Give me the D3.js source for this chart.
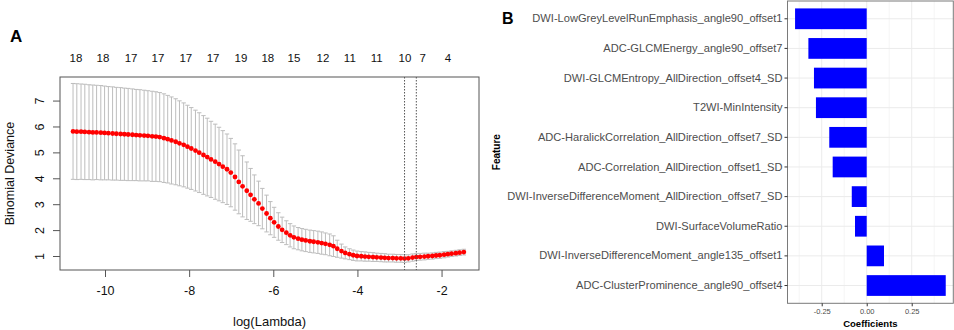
<!DOCTYPE html>
<html>
<head>
<meta charset="utf-8">
<script src="https://cdn.jsdelivr.net/npm/d3@7"></script>
<style>
  body { margin: 0; background: #fff; }
  svg { display: block; font-family: "Liberation Sans", Arial, sans-serif; }
</style>
</head>
<body>
<div id="chart"></div>
<script>
// ---- Panel A: cross-validated binomial deviance vs log(lambda) ----
const logLambda = [
  -10.76, -10.67, -10.57, -10.48, -10.38, -10.29, -10.20, -10.10, -10.01, -9.92,
  -9.82, -9.73, -9.63, -9.54, -9.45, -9.35, -9.26, -9.17, -9.07, -8.98,
  -8.88, -8.79, -8.70, -8.60, -8.51, -8.42, -8.32, -8.23, -8.13, -8.04,
  -7.95, -7.85, -7.76, -7.66, -7.57, -7.48, -7.38, -7.29, -7.20, -7.10,
  -7.01, -6.91, -6.82, -6.73, -6.63, -6.54, -6.45, -6.35, -6.26, -6.16,
  -6.07, -5.98, -5.88, -5.79, -5.69, -5.60, -5.51, -5.41, -5.32, -5.23,
  -5.13, -5.04, -4.94, -4.85, -4.76, -4.66, -4.57, -4.48, -4.38, -4.29,
  -4.19, -4.10, -4.01, -3.91, -3.82, -3.73, -3.63, -3.54, -3.44, -3.35,
  -3.26, -3.16, -3.07, -2.97, -2.88, -2.79, -2.69, -2.60, -2.51, -2.41,
  -2.32, -2.22, -2.13, -2.04, -1.94, -1.85, -1.76, -1.66, -1.57, -1.47
];
const cvMean = [
  5.81, 5.80, 5.80, 5.79, 5.78, 5.77, 5.77, 5.76, 5.75, 5.74,
  5.73, 5.72, 5.71, 5.70, 5.69, 5.68, 5.67, 5.66, 5.65, 5.64,
  5.62, 5.61, 5.59, 5.55, 5.51, 5.46, 5.41, 5.35, 5.29, 5.22,
  5.15, 5.07, 4.99, 4.90, 4.82, 4.73, 4.64, 4.55, 4.45, 4.35,
  4.22, 4.05, 3.86, 3.69, 3.52, 3.36, 3.19, 3.03, 2.83, 2.64,
  2.46, 2.30, 2.14, 2.01, 1.90, 1.80, 1.72, 1.67, 1.63, 1.60,
  1.57, 1.55, 1.53, 1.50, 1.47, 1.43, 1.38, 1.28, 1.19, 1.12,
  1.07, 1.03, 1.00, 0.99, 0.98, 0.97, 0.96, 0.95, 0.94, 0.93,
  0.92, 0.92, 0.91, 0.91, 0.90, 0.91, 0.94, 0.96, 0.97, 0.98,
  0.99, 1.00, 1.02, 1.03, 1.05, 1.07, 1.09, 1.11, 1.13, 1.15
];
const cvSe = [
  1.85, 1.85, 1.84, 1.84, 1.83, 1.83, 1.82, 1.82, 1.81, 1.80,
  1.80, 1.79, 1.79, 1.78, 1.78, 1.77, 1.76, 1.76, 1.75, 1.74,
  1.74, 1.73, 1.72, 1.71, 1.69, 1.68, 1.66, 1.64, 1.62, 1.60,
  1.58, 1.56, 1.54, 1.52, 1.50, 1.47, 1.45, 1.42, 1.39, 1.36,
  1.32, 1.28, 1.23, 1.18, 1.11, 1.02, 0.94, 0.86, 0.78, 0.71,
  0.64, 0.58, 0.53, 0.49, 0.46, 0.45, 0.44, 0.43, 0.43, 0.43,
  0.43, 0.43, 0.43, 0.43, 0.42, 0.42, 0.40, 0.33, 0.27, 0.23,
  0.21, 0.20, 0.19, 0.18, 0.18, 0.17, 0.17, 0.16, 0.16, 0.16,
  0.15, 0.15, 0.15, 0.15, 0.15, 0.14, 0.14, 0.13, 0.13, 0.13,
  0.12, 0.12, 0.12, 0.12, 0.12, 0.11, 0.11, 0.11, 0.11, 0.11
];
// number of non-zero coefficients shown along the top
const dfLabelPos = [-10.69, -10.05, -9.38, -8.74, -8.08, -7.43, -6.77, -6.13, -5.51, -4.82, -4.18, -3.54, -2.87, -2.45, -1.85];
const dfLabels = ["18", "18", "17", "17", "17", "17", "19", "18", "15", "12", "11", "11", "10", "7", "4"];
const lambdaLines = [-2.88, -2.60]; // lambda.min, lambda.1se
const xTicksA = [-10, -8, -6, -4, -2];
const yTicksA = [1, 2, 3, 4, 5, 6, 7];

// ---- Panel B: LASSO coefficients of the selected features ----
const features = [
  "DWI-LowGreyLevelRunEmphasis_angle90_offset1",
  "ADC-GLCMEnergy_angle90_offset7",
  "DWI-GLCMEntropy_AllDirection_offset4_SD",
  "T2WI-MinIntensity",
  "ADC-HaralickCorrelation_AllDirection_offset7_SD",
  "ADC-Correlation_AllDirection_offset1_SD",
  "DWI-InverseDifferenceMoment_AllDirection_offset7_SD",
  "DWI-SurfaceVolumeRatio",
  "DWI-InverseDifferenceMoment_angle135_offset1",
  "ADC-ClusterProminence_angle90_offset4"
];
const coefficients = [-0.398, -0.324, -0.293, -0.282, -0.208, -0.189, -0.083, -0.065, 0.096, 0.439];
const xTicksB = [-0.25, 0, 0.25];
const xMinorB = [-0.375, -0.125, 0.125, 0.375];

const svg = d3.select("#chart").append("svg")
  .attr("width", 954)
  .attr("height", 330);

/**
 * Panel A, drawn in the style of R's plot.cv.glmnet
 */
function drawPanelA() {
  const box = { left: 60, right: 479, top: 77, bottom: 270 };
  const g = svg.append("g");

  const xScale = d3.scaleLinear().domain([-11.07, -1.11]).range([box.left, box.right]);
  const yScale = d3.scaleLinear().domain([0.46, 7.91]).range([box.bottom, box.top]);

  // panel letter
  g.append("text")
    .attr("x", 10).attr("y", 42)
    .attr("font-size", 17).attr("font-weight", "bold")
    .text("A");

  // error bars
  const bars = g.append("g").attr("stroke", "#bdbdbd").attr("stroke-width", 1);
  logLambda.forEach((l, i) => {
    const x = xScale(l);
    const y0 = yScale(cvMean[i] - cvSe[i]);
    const y1 = yScale(cvMean[i] + cvSe[i]);
    bars.append("line").attr("x1", x).attr("x2", x).attr("y1", y0).attr("y2", y1);
    bars.append("line").attr("x1", x - 2.2).attr("x2", x + 2.2).attr("y1", y0).attr("y2", y0);
    bars.append("line").attr("x1", x - 2.2).attr("x2", x + 2.2).attr("y1", y1).attr("y2", y1);
  });

  // mean deviance points
  g.append("g").selectAll("circle")
    .data(logLambda)
    .join("circle")
    .attr("cx", (d) => xScale(d))
    .attr("cy", (d, i) => yScale(cvMean[i]))
    .attr("r", 2.4)
    .attr("fill", "#ff0000");

  // lambda.min and lambda.1se
  g.append("g").selectAll("line")
    .data(lambdaLines)
    .join("line")
    .attr("x1", (d) => xScale(d)).attr("x2", (d) => xScale(d))
    .attr("y1", box.top).attr("y2", box.bottom)
    .attr("stroke", "#555")
    .attr("stroke-width", 1)
    .attr("stroke-dasharray", "1.5,1.5");

  // frame
  g.append("rect")
    .attr("x", box.left).attr("y", box.top)
    .attr("width", box.right - box.left).attr("height", box.bottom - box.top)
    .attr("fill", "none").attr("stroke", "#555").attr("stroke-width", 1);

  // bottom axis
  const xAxis = d3.axisBottom(xScale).tickValues(xTicksA).tickSize(7).tickPadding(9).tickFormat((d) => d);
  const xAxisG = g.append("g").attr("transform", `translate(0,${box.bottom})`).call(xAxis);
  xAxisG.select(".domain").remove();
  xAxisG.selectAll(".tick line").attr("stroke", "#555");
  xAxisG.selectAll(".tick text")
    .attr("font-size", 12.5).attr("fill", "#111")
    .attr("font-family", "Liberation Sans, Arial, sans-serif")
    .text((d) => (d < 0 ? "-" + Math.abs(d) : d));

  // left axis, labels parallel to the axis
  const yAxis = d3.axisLeft(yScale).tickValues(yTicksA).tickSize(7).tickFormat((d) => d);
  const yAxisG = g.append("g").attr("transform", `translate(${box.left},0)`).call(yAxis);
  yAxisG.select(".domain").remove();
  yAxisG.selectAll(".tick line").attr("stroke", "#555");
  yAxisG.selectAll(".tick text")
    .attr("font-size", 12.5).attr("fill", "#111")
    .attr("font-family", "Liberation Sans, Arial, sans-serif")
    .attr("x", 0).attr("dy", null)
    .attr("text-anchor", "middle")
    .attr("transform", "translate(-16,0) rotate(-90)");

  // df labels on top
  g.append("g").selectAll("text")
    .data(dfLabelPos)
    .join("text")
    .attr("x", (d) => xScale(d))
    .attr("y", 61.5)
    .attr("text-anchor", "middle")
    .attr("font-size", 11.5)
    .attr("fill", "#111")
    .text((d, i) => dfLabels[i]);

  // axis titles
  g.append("text")
    .attr("x", (box.left + box.right) / 2).attr("y", 326)
    .attr("text-anchor", "middle").attr("font-size", 13).attr("fill", "#111")
    .text("log(Lambda)");
  g.append("text")
    .attr("transform", `translate(14,${(box.top + box.bottom) / 2}) rotate(-90)`)
    .attr("text-anchor", "middle").attr("font-size", 12.5).attr("fill", "#111")
    .text("Binomial Deviance");
}

/**
 * Panel B, drawn in the style of ggplot2's theme_bw
 */
function drawPanelB() {
  const box = { left: 787.5, right: 953.3, top: 1, bottom: 303.3 };
  const g = svg.append("g");

  const xScale = d3.scaleLinear().domain([-0.440, 0.481]).range([box.left, box.right]);
  const yScale = d3.scaleBand().domain(features).range([box.top, box.bottom])
    .paddingInner(0.3).paddingOuter(0.25);

  g.append("text")
    .attr("x", 502).attr("y", 24)
    .attr("font-size", 16).attr("font-weight", "bold")
    .text("B");

  // grid
  const grid = g.append("g").attr("stroke", "#ebebeb");
  grid.selectAll(".minor").data(xMinorB).join("line")
    .attr("class", "minor")
    .attr("x1", (d) => xScale(d)).attr("x2", (d) => xScale(d))
    .attr("y1", box.top).attr("y2", box.bottom)
    .attr("stroke-width", 0.5);
  grid.selectAll(".majorx").data(xTicksB).join("line")
    .attr("class", "majorx")
    .attr("x1", (d) => xScale(d)).attr("x2", (d) => xScale(d))
    .attr("y1", box.top).attr("y2", box.bottom)
    .attr("stroke-width", 1);
  grid.selectAll(".majory").data(features).join("line")
    .attr("class", "majory")
    .attr("x1", box.left).attr("x2", box.right)
    .attr("y1", (d) => yScale(d) + yScale.bandwidth() / 2)
    .attr("y2", (d) => yScale(d) + yScale.bandwidth() / 2)
    .attr("stroke-width", 1);

  // bars
  g.append("g").selectAll("rect")
    .data(features)
    .join("rect")
    .attr("x", (d, i) => xScale(Math.min(0, coefficients[i])))
    .attr("y", (d) => yScale(d))
    .attr("width", (d, i) => Math.abs(xScale(coefficients[i]) - xScale(0)))
    .attr("height", yScale.bandwidth())
    .attr("fill", "#0000ff");

  // panel border
  g.append("rect")
    .attr("x", box.left).attr("y", box.top)
    .attr("width", box.right - box.left).attr("height", box.bottom - box.top)
    .attr("fill", "none").attr("stroke", "#7a7a7a").attr("stroke-width", 1);

  // axes
  const xAxis = d3.axisBottom(xScale).tickValues(xTicksB).tickSize(3).tickPadding(2).tickFormat(d3.format(".2f"));
  const xAxisG = g.append("g").attr("transform", `translate(0,${box.bottom})`).call(xAxis);
  xAxisG.select(".domain").remove();
  xAxisG.selectAll(".tick line").attr("stroke", "#333");
  xAxisG.selectAll(".tick text")
    .attr("font-size", 7.5).attr("fill", "#4d4d4d")
    .attr("font-family", "Liberation Sans, Arial, sans-serif")
    .text((d) => d3.format(".2f")(d).replace("−", "-"));

  const yAxis = d3.axisLeft(yScale).tickSize(3).tickPadding(2);
  const yAxisG = g.append("g").attr("transform", `translate(${box.left},0)`).call(yAxis);
  yAxisG.select(".domain").remove();
  yAxisG.selectAll(".tick line").attr("stroke", "#333");
  yAxisG.selectAll(".tick text")
    .attr("font-size", 11.1).attr("fill", "#4d4d4d")
    .attr("font-family", "Liberation Sans, Arial, sans-serif");

  // axis titles
  g.append("text")
    .attr("x", (box.left + box.right) / 2).attr("y", 326.5)
    .attr("text-anchor", "middle").attr("font-size", 9.5).attr("font-weight", "bold")
    .text("Coefficients");
  g.append("text")
    .attr("transform", `translate(500,${(box.top + box.bottom) / 2}) rotate(-90)`)
    .attr("text-anchor", "middle").attr("font-size", 10).attr("font-weight", "bold")
    .text("Feature");
}

drawPanelA();
drawPanelB();
</script>
</body>
</html>
